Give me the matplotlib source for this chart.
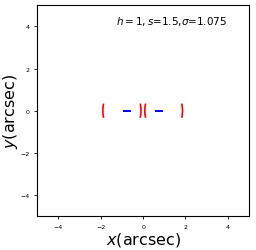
import matplotlib
matplotlib.use("Agg")
import matplotlib.pyplot as plt
from matplotlib.patches import Arc

# lensed images: arc centre x, centre y, radius, theta1, theta2
arc_cx = [-0.40, -1.60, 1.58, 0.36]
arc_cy = [0.0, 0.0, 0.0, 0.0]
arc_r = [1.5, 1.5, 1.5, 1.5]
arc_t1 = [167, -13, 167, -13]
arc_t2 = [193, 13, 193, 13]

# source positions (short blue segments)
src_x0 = [-0.88, 0.60]
src_x1 = [-0.60, 0.88]
src_y = [0.0, 0.0]

label = r"$h=1, s$=1.5,$\sigma$=1.075"

fig = plt.figure(figsize=(2.56, 2.51), dpi=100)
ax = fig.add_axes([0.145, 0.135, 0.828, 0.84])

for cx, cy, r, t1, t2 in zip(arc_cx, arc_cy, arc_r, arc_t1, arc_t2):
    ax.add_patch(Arc((cx, cy), 2 * r, 2 * r, theta1=t1, theta2=t2,
                     color="red", lw=1.2))

for a, b, y in zip(src_x0, src_x1, src_y):
    ax.plot([a, b], [y, y], color="blue", lw=1.4)

ax.set_xlim(-5, 5)
ax.set_ylim(-5, 5)
ax.set_xticks([-4, -2, 0, 2, 4])
ax.set_yticks([-4, -2, 0, 2, 4])
ax.tick_params(labelsize=4.5, length=2, width=0.6)
for s in ax.spines.values():
    s.set_linewidth(0.8)
ax.text(-1.26, 4.3, label, fontsize=7.5, va="center")
ax.set_xlabel(r"$x$(arcsec)", fontsize=11.5, labelpad=1)
ax.set_ylabel(r"$y$(arcsec)", fontsize=11.5)
ax.yaxis.set_label_coords(-0.08, 0.5)

fig.savefig("out.png", dpi=100)
